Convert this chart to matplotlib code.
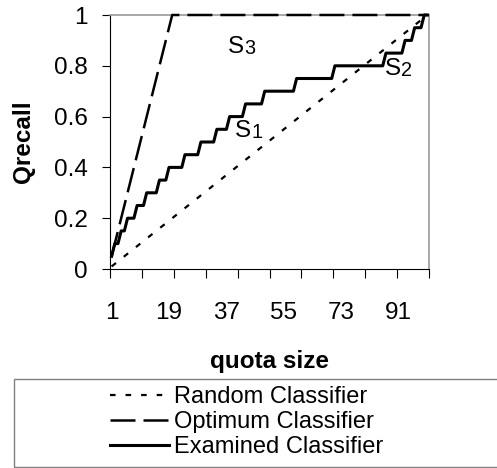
import matplotlib
matplotlib.use("Agg")
import matplotlib.pyplot as plt
from matplotlib.patches import Rectangle

plt.rcParams['font.family'] = ['Liberation Sans', 'DejaVu Sans']

# quota size (category) and Qrecall values
random_x = [1, 100]
random_y = [0.01, 1.0]

optimum_x = [1, 20, 100]
optimum_y = [0.05, 1.0, 1.0]

examined_x = [1, 2, 3, 4, 5, 6, 8, 9, 11, 12, 15, 16, 18, 19, 23, 24, 28, 29, 33,
              34, 37, 38, 42, 43, 48, 49, 58, 59, 70, 71, 86, 87, 92, 93, 95,
              96, 98, 99, 100]
examined_y = [0.05, 0.1, 0.1, 0.15, 0.15, 0.2, 0.2, 0.25, 0.25, 0.3, 0.3, 0.35, 0.35,
              0.4, 0.4, 0.45, 0.45, 0.5, 0.5, 0.55, 0.55, 0.6, 0.6, 0.65, 0.65,
              0.7, 0.7, 0.75, 0.75, 0.8, 0.8, 0.85, 0.85, 0.9, 0.9, 0.95, 0.95,
              1.0, 1.0]

xtick_labels = [1, 19, 37, 55, 73, 91]
ytick_values = [0, 0.2, 0.4, 0.6, 0.8, 1]
ytick_labels = ['0', '0.2', '0.4', '0.6', '0.8', '1']

# region labels: (name, digit, x, y)
regions = [('S', '1', 39.7, 0.52), ('S', '2', 86.7, 0.765), ('S', '3', 37.5, 0.852)]

W, H = 497, 468
fig = plt.figure(figsize=(W / 100, H / 100), dpi=100)
ax = fig.add_axes([110 / W, 1 - 269 / H, 319 / W, 254 / H])

fs = 17.5
gray = '#999999'

ax.plot(random_x, random_y, color='black', lw=1.6, dashes=(2.5, 4.5),
        label='Random Classifier', clip_on=False, zorder=3)
ax.plot(optimum_x, optimum_y, color='black', lw=1.8, dashes=(10, 3.2),
        label='Optimum Classifier', clip_on=False, zorder=3)
ax.plot(examined_x, examined_y, color='black', lw=2.2,
        label='Examined Classifier', clip_on=False, zorder=3)

ax.set_xlim(0.5, 100.5)
ax.set_ylim(0, 1)

ax.set_xticks([0.5 + 10 * i for i in range(11)])
ax.set_xticklabels([])
ax.set_xticks(xtick_labels, minor=True)
ax.set_xticklabels([str(v) for v in xtick_labels], minor=True, fontsize=fs)
ax.tick_params(axis='x', which='major', direction='out', length=6.5, width=0.8)
ax.tick_params(axis='x', which='minor', length=0, pad=24)

ax.set_yticks(ytick_values)
ax.set_yticklabels(ytick_labels, fontsize=fs)
ax.tick_params(axis='y', direction='out', length=6, width=0.8, pad=10)

for s in ['left', 'bottom']:
    ax.spines[s].set_color('black')
    ax.spines[s].set_linewidth(0.8)
for s in ['top', 'right']:
    ax.spines[s].set_color(gray)
    ax.spines[s].set_linewidth(1.2)

ax.set_xlabel('quota size', fontsize=fs, fontweight='bold', va='top')
ax.xaxis.set_label_coords(0.5, -0.32)
ax.set_ylabel('Qrecall', fontsize=fs, fontweight='bold')
ax.yaxis.set_label_coords(-0.235, 0.5)

for name, digit, x, y in regions:
    t = ax.text(x, y, name, fontsize=fs, ha='left', va='baseline')
    ax.annotate(digit, xy=(1, 0), xycoords=t, fontsize=fs * 0.82,
                ha='left', va='bottom')

# legend box spanning to the right edge
fig.patches.append(Rectangle((14 / W, 1 - 467 / H), 1.0, (467 - 379) / H,
                             transform=fig.transFigure, fill=False,
                             edgecolor='#808080', lw=1.0))
ax.legend(loc='upper left', bbox_to_anchor=(110 / W, 1 - 386 / H),
          bbox_transform=fig.transFigure, frameon=False, fontsize=17,
          borderpad=0, borderaxespad=0, handlelength=2.5, handletextpad=0.2,
          labelspacing=0.13)

fig.savefig('out.png', dpi=100)
